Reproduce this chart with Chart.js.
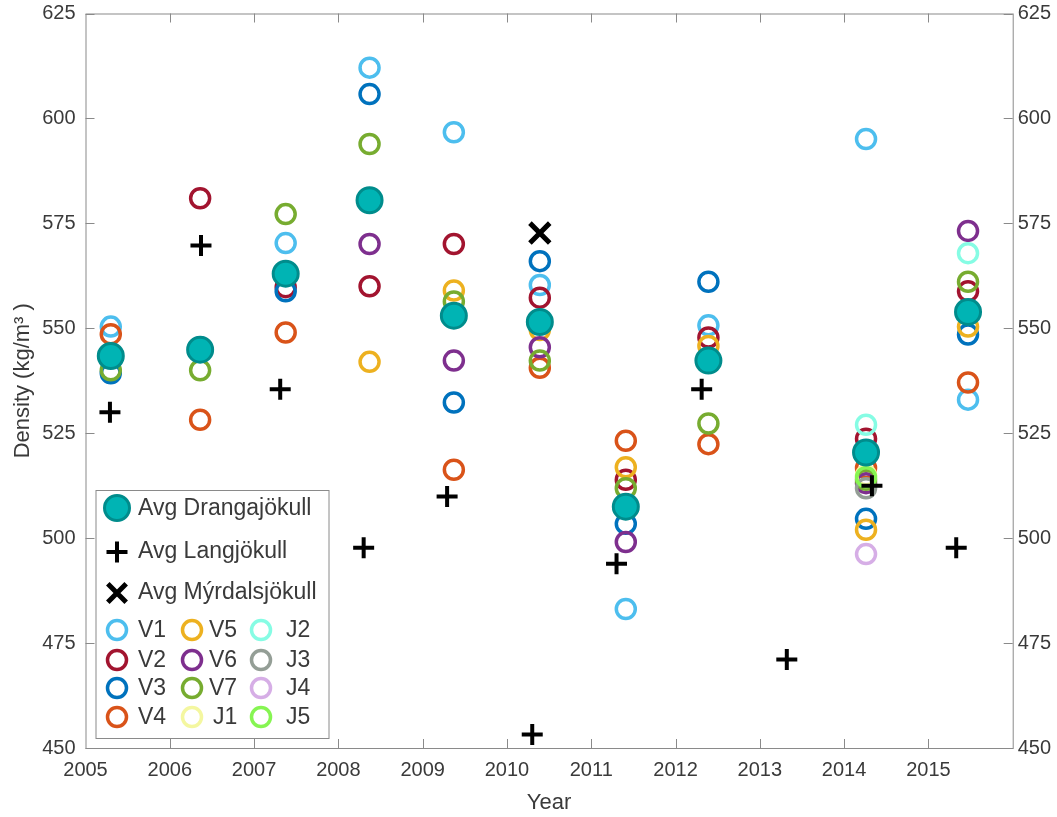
<!DOCTYPE html>
<html>
<head>
<meta charset="utf-8">
<script src="https://cdn.jsdelivr.net/npm/chart.js@4/dist/chart.umd.min.js"></script>
<style>
body{margin:0;background:#fff;}
</style>
</head>
<body>
<canvas id="c" width="1057" height="817"></canvas>
<script>
// sampling dates of the Drangajökull cores (x of the circles)
var drangYears = [2005.30, 2006.36, 2007.375, 2008.37, 2009.37, 2010.39, 2011.41, 2012.39, 2014.26, 2015.47];

var V1 = [550.4, null, 570.3, 612.1, 596.7, 560.3, 483.1, 550.7, 595.1, 533.0];
var V2 = [null, 581.0, 559.8, 560.0, 570.1, 557.3, 513.9, 547.8, 523.7, 558.8];
var V3 = [539.3, 545.5, 558.8, 605.8, 532.3, 566.0, 503.4, 561.1, 504.6, 548.5];
var V4 = [548.6, 528.2, 549.0, null, 516.3, 540.6, 523.2, 522.4, 516.7, 537.1];
var V5 = [null, null, null, 542.0, 559.0, 549.6, 516.9, 545.8, 502.0, 550.4];
var V6 = [null, null, null, 570.1, 542.3, 545.5, 499.1, null, 513.1, 573.2];
var V7 = [540.0, 540.0, 577.2, 593.9, 556.4, 542.3, 511.9, 527.3, 513.9, 561.1];
var J1 = [null, null, null, null, null, null, null, null, 515.0, null];
var J2 = [null, null, null, null, null, null, null, null, 527.0, 567.9];
var J3 = [null, null, null, null, null, null, null, null, 511.9, null];
var J4 = [null, null, null, null, null, null, null, null, 496.2, null];
var J5 = [null, null, null, null, null, null, null, null, 514.5, null];
var avgDrang = [543.4, 544.9, 563.0, 580.5, 553.0, 551.5, 507.5, 542.3, 520.4, 553.9];

var langYears = [2005.29, 2006.37, 2007.31, 2008.30, 2009.29, 2010.30, 2011.30, 2012.31, 2013.32, 2014.33, 2015.33];
var avgLang = [530.0, 569.7, 535.5, 497.7, 509.9, 453.2, 493.9, 535.5, 471.1, 512.5, 497.7];

var myrdalYears = [2010.39];
var avgMyrdal = [572.7];

var yTicks = [450, 475, 500, 525, 550, 575, 600, 625];

var cols = {
  V1:'#4DBEEE', V2:'#A2142F', V3:'#0072BD', V4:'#D95319', V5:'#EDB120', V6:'#7E2F8E', V7:'#77AC30',
  J1:'#F4F7A0', J2:'#86FCE4', J3:'#949E96', J4:'#D6AEE6', J5:'#86F552'
};
var series = {V1:V1, V2:V2, V3:V3, V4:V4, V5:V5, V6:V6, V7:V7, J1:J1, J2:J2, J3:J3, J4:J4, J5:J5};

function pts(xs, ys){
  var out = [];
  for (var i = 0; i < xs.length; i++) {
    if (ys[i] != null) out.push({x: xs[i], y: ys[i]});
  }
  return out;
}

var datasets = [];
datasets.push({label:'Avg Mýrdalsjökull', data:pts(myrdalYears, avgMyrdal), pointStyle:'crossRot', radius:14, borderWidth:5, borderColor:'#000', backgroundColor:'#000'});
datasets.push({label:'Avg Langjökull', data:pts(langYears, avgLang), pointStyle:'cross', radius:10.5, borderWidth:4, borderColor:'#000', backgroundColor:'#000'});
datasets.push({label:'Avg Drangajökull', data:pts(drangYears, avgDrang), pointStyle:'circle', radius:12.5, borderWidth:3, borderColor:'#008C8C', backgroundColor:'#00B4B4'});
var names = ['J5','J4','J3','J2','J1','V7','V6','V5','V4','V3','V2','V1'];
names.forEach(function(n){
  datasets.push({label:n, data:pts(drangYears, series[n]), pointStyle:'circle', radius:9.5, borderWidth:3.5, borderColor:cols[n], backgroundColor:'rgba(0,0,0,0)'});
});

var axisGray = '#8a8a8a';
var textCol = '#3a3a3a';

// box round the plot and inward tick marks
var boxPlugin = {
  id:'box',
  afterDraw:function(chart){
    var ctx = chart.ctx, a = chart.chartArea;
    var sx = chart.scales.x, sy = chart.scales.y;
    ctx.save();
    ctx.strokeStyle = axisGray;
    ctx.lineWidth = 1;
    ctx.strokeRect(a.left + 0.5, a.top + 0.5, a.right - a.left, a.bottom - a.top);
    ctx.beginPath();
    sx.ticks.forEach(function(t){
      if (t.value <= 2005 || t.value >= 2016) return;
      var px = Math.round(sx.getPixelForValue(t.value)) + 0.5;
      ctx.moveTo(px, a.bottom); ctx.lineTo(px, a.bottom - 9);
      ctx.moveTo(px, a.top); ctx.lineTo(px, a.top + 9);
    });
    sy.ticks.forEach(function(t){
      var py = Math.round(sy.getPixelForValue(t.value)) + 0.5;
      ctx.moveTo(a.left, py); ctx.lineTo(a.left + 9, py);
      ctx.moveTo(a.right, py); ctx.lineTo(a.right - 9, py);
    });
    ctx.stroke();
    ctx.restore();
  }
};

function mark(ctx, style, x, y, r, w, stroke, fill){
  ctx.save();
  ctx.lineWidth = w;
  ctx.strokeStyle = stroke;
  ctx.beginPath();
  if (style === 'circle') {
    ctx.arc(x, y, r, 0, Math.PI * 2);
    if (fill) { ctx.fillStyle = fill; ctx.fill(); }
  } else if (style === 'cross') {
    ctx.moveTo(x - r, y); ctx.lineTo(x + r, y);
    ctx.moveTo(x, y - r); ctx.lineTo(x, y + r);
  } else {
    var d = r * 0.7071;
    ctx.moveTo(x - d, y - d); ctx.lineTo(x + d, y + d);
    ctx.moveTo(x - d, y + d); ctx.lineTo(x + d, y - d);
  }
  ctx.stroke();
  ctx.restore();
}

var legendPlugin = {
  id:'boxLegend',
  afterDraw:function(chart){
    var ctx = chart.ctx;
    var a = chart.chartArea;
    var bx = a.left + 10, by = 490, bw = 233, bh = 248;
    ctx.save();
    ctx.fillStyle = '#fff';
    ctx.fillRect(bx, by, bw, bh);
    ctx.strokeStyle = '#8a8a8a';
    ctx.lineWidth = 1;
    ctx.strokeRect(bx + 0.5, by + 0.5, bw, bh);
    ctx.font = '23px "Liberation Sans", Arial, sans-serif';
    ctx.fillStyle = textCol;
    ctx.textBaseline = 'middle';
    mark(ctx, 'circle', 117, 508, 12.5, 3, '#008C8C', '#00B4B4');
    ctx.fillText('Avg Drangajökull', 138, 509);
    mark(ctx, 'cross', 117, 552, 10.5, 4, '#000');
    ctx.fillText('Avg Langjökull', 138, 552);
    mark(ctx, 'crossRot', 117, 593, 13, 5, '#000');
    ctx.fillText('Avg Mýrdalsjökull', 138, 593);
    var grid = [['V1','V2','V3','V4'], ['V5','V6','V7','J1'], ['J2','J3','J4','J5']];
    var mx = [117, 192, 261], tx = [138, 209, 282];
    var ry = [630, 660, 688, 717];
    for (var c = 0; c < 3; c++) {
      for (var r = 0; r < 4; r++) {
        var n = grid[c][r];
        mark(ctx, 'circle', mx[c], ry[r], 9.5, 3.5, cols[n]);
        ctx.fillStyle = textCol;
        ctx.fillText(n, n.charAt(0) === 'J' ? tx[c] + 4 : tx[c], ry[r] + 1);
      }
    }
    ctx.restore();
  }
};

var font = {family:'"Liberation Sans", Arial, sans-serif', size:20};

function fitY(w){
  return function(s){ s.width = w; s.paddingTop = 0; s.paddingBottom = 0; };
}

new Chart(document.getElementById('c').getContext('2d'), {
  type:'scatter',
  data:{datasets:datasets},
  options:{
    responsive:false,
    animation:false,
    events:[],
    layout:{autoPadding:false, padding:{top:13.5, left:0, right:0, bottom:0}},
    plugins:{legend:{display:false}, tooltip:{enabled:false}},
    scales:{
      x:{
        type:'linear', min:2005, max:2016,
        afterFit:function(s){ s.height = 69; s.paddingLeft = 0; s.paddingRight = 0; },
        afterBuildTicks:function(s){
          var t = [];
          for (var v = 2005; v <= 2016; v++) t.push({value:v});
          s.ticks = t;
        },
        ticks:{font:font, color:textCol, padding:10, maxRotation:0, autoSkip:false,
          callback:function(v){ return v >= 2016 ? '' : String(v); }},
        grid:{display:false, drawTicks:false},
        border:{display:false},
        title:{display:true, text:'Year', font:{family:font.family, size:22}, color:textCol, padding:{top:0, bottom:1}}
      },
      y:{
        type:'linear', position:'left', min:450, max:625,
        afterFit:fitY(85.5),
        afterBuildTicks:function(s){ s.ticks = yTicks.map(function(v){ return {value:v}; }); },
        ticks:{font:font, color:textCol, padding:10, callback:function(v){ return String(v); }},
        grid:{display:false, drawTicks:false},
        border:{display:false},
        title:{display:true, text:'Density (kg/m³ )', font:{family:font.family, size:22}, color:textCol, padding:{top:10, bottom:0}}
      },
      y2:{
        type:'linear', position:'right', min:450, max:625,
        afterFit:fitY(44.3),
        afterBuildTicks:function(s){ s.ticks = yTicks.map(function(v){ return {value:v}; }); },
        ticks:{font:font, color:textCol, padding:5, callback:function(v){ return String(v); }},
        grid:{display:false, drawTicks:false},
        border:{display:false}
      }
    }
  },
  plugins:[boxPlugin, legendPlugin]
});
</script>
</body>
</html>
